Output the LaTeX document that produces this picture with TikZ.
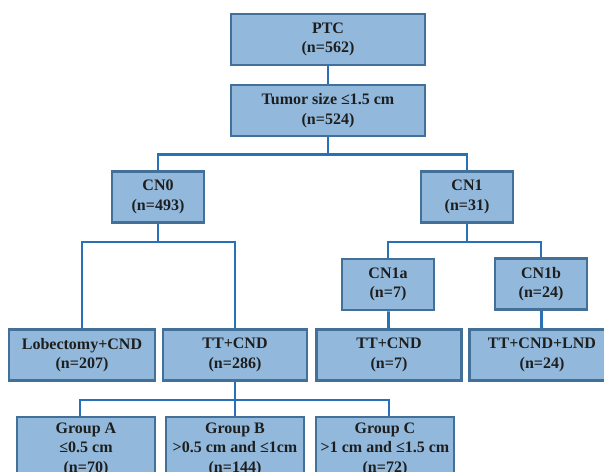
\documentclass[tikz,border=0pt]{standalone}
\usepackage{fontspec}
\setmainfont{Liberation Serif}
\definecolor{boxfill}{RGB}{146,185,220}
\definecolor{boxline}{RGB}{66,112,152}
\definecolor{linkblue}{RGB}{40,112,184}
\definecolor{textgray}{RGB}{30,30,30}
\begin{document}
\begin{tikzpicture}[x=1pt,y=-1pt,
		box/.style={draw=boxline, fill=boxfill, line width=2.8pt, align=center, inner sep=0pt,
			text=textgray, font=\bfseries\fontsize{16}{19.5}\selectfont, minimum height=51pt},
		link/.style={draw=linkblue, line width=2.8pt}]
	\useasboundingbox (0,0) rectangle (604,471);
	% top
	\node[box, minimum width=194pt] (ptc) at (328,39.5) {PTC\\(n=562)};
	\node[box, minimum width=194pt] (tumor) at (328,110.5) {Tumor size ≤1.5 cm\\(n=524)};
	% cN stage
	\node[box, minimum width=92pt] (cn0) at (158,197) {CN0\\(n=493)};
	\node[box, minimum width=92pt] (cn1) at (467,197) {CN1\\(n=31)};
	\node[box, minimum width=92pt] (cn1a) at (388,284.5) {CN1a\\(n=7)};
	\node[box, minimum width=92pt] (cn1b) at (541,284) {CN1b\\(n=24)};
	% surgery
	\node[box, minimum width=146pt] (lob) at (82,355) {Lobectomy+CND\\(n=207)};
	\node[box, minimum width=144pt] (tt) at (235,355) {TT+CND\\(n=286)};
	\node[box, minimum width=145pt] (ttseven) at (389,355) {TT+CND\\(n=7)};
	\node[box, minimum width=145pt] (ttlnd) at (542,355) {TT+CND+LND\\(n=24)};
	% groups
	\node[box, minimum width=138pt, minimum height=64pt] (ga) at (86,449) {Group A\\≤0.5 cm\\(n=70)};
	\node[box, minimum width=138pt, minimum height=64pt] (gb) at (235,449) {Group B\\>0.5 cm and ≤1cm\\(n=144)};
	\node[box, minimum width=138pt, minimum height=64pt] (gc) at (385,449) {Group C\\>1 cm and ≤1.5 cm\\(n=72)};

	\begin{scope}[on background layer/.try]
	\draw[link] (ptc) -- (tumor);
	\draw[link] (tumor.south) -- ++(0,17) -| (cn0.north);
	\draw[link] (tumor.south) -- ++(0,17) -| (cn1.north);
	\draw[link] (cn0.south) -- ++(0,18) -| (lob.north);
	\draw[link] (cn0.south) -- ++(0,18) -| (tt.north);
	\draw[link] (cn1.south) -- ++(0,18) -| (cn1a.north);
	\draw[link] (cn1.south) -- ++(0,18) -| (cn1b.north);
	\draw[link] (cn1a) -- (ttseven);
	\draw[link] (cn1b) -- (ttlnd);
	\draw[link] (tt.south) -- ++(0,18) -| ([xshift=-6pt]ga.north);
	\draw[link] (tt) -- (gb);
	\draw[link] (tt.south) -- ++(0,18) -| ([xshift=4pt]gc.north);
	\end{scope}
\end{tikzpicture}
\end{document}
